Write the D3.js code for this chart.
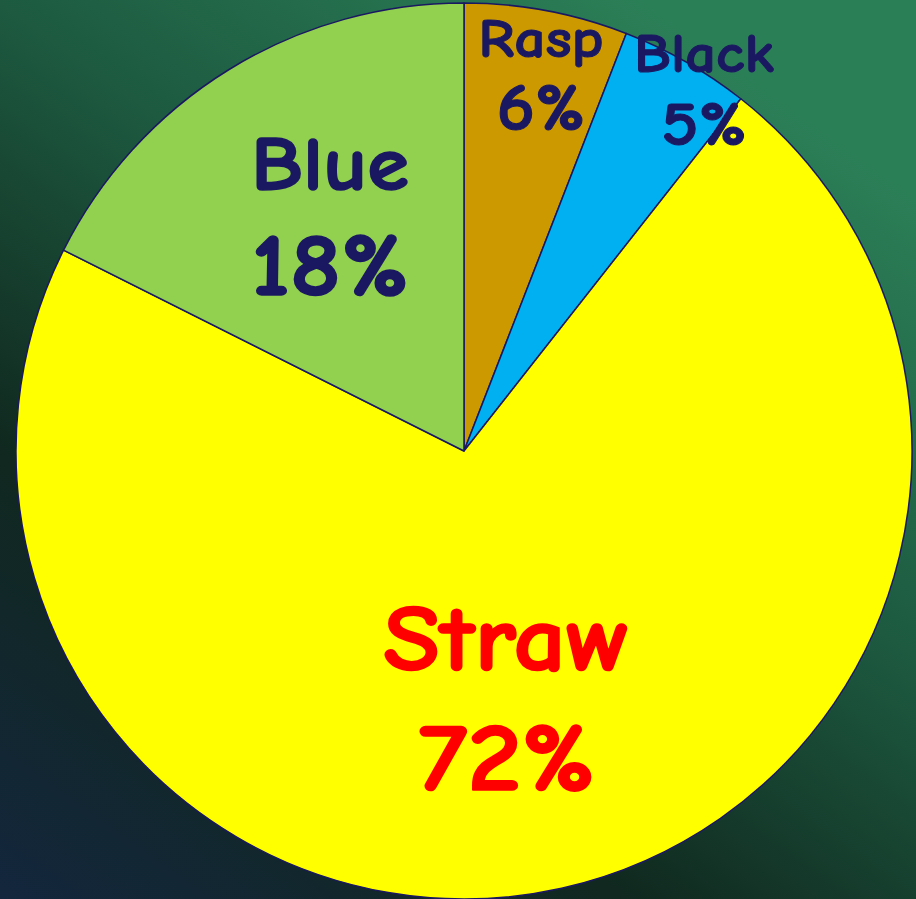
<!DOCTYPE html>
<html>
<head>
<meta charset="utf-8">
<script src="https://cdn.jsdelivr.net/npm/d3@7"></script>
<style>
  html, body { margin: 0; padding: 0; overflow: hidden; }
  svg { display: block; }
</style>
</head>
<body>
<svg id="chart" width="916" height="899"></svg>
<script>
// ---- data ----
const categories = ["Rasp", "Black", "Straw", "Blue"];
const values = [5.9, 4.7, 71.8, 17.6];
const colors = ["#CC9900", "#00B0F0", "#FFFF00", "#92D050"];
const labelColors = ["#1B1862", "#1B1862", "#FF0000", "#1B1862"];

// ---- label layout (radius fraction, angle shift deg, name/pct font sizes, line gap) ----
const labelRadius = [0.816, 0.9335, 0.630, 0.553];
const labelAngleShift = [1.53, 5.32, 3.84, -1.05];
const nameFont = [55, 54, 93, 76];
const pctFont = [66, 63, 97, 89];
const labelGap = [73, 73, 120, 105];
const strokeW = [1, 1, 1.6, 1.6];
const stretchX = 1.12;

const W = 916, H = 899;
const cx = 464, cy = 451, R = 448;

const svg = d3.select("#chart");
const defs = svg.append("defs");
const grad = defs.append("linearGradient")
  .attr("id", "bg").attr("gradientUnits", "userSpaceOnUse")
  .attr("x1", 0).attr("y1", H).attr("x2", W * 0.7).attr("y2", 0);
grad.append("stop").attr("offset", "0%").attr("stop-color", "#13263d");
grad.append("stop").attr("offset", "33%").attr("stop-color", "#10281f");
grad.append("stop").attr("offset", "66%").attr("stop-color", "#1d5a40");
grad.append("stop").attr("offset", "100%").attr("stop-color", "#2b7f57");
svg.append("rect").attr("width", W).attr("height", H).attr("fill", "url(#bg)");

const data = categories.map((c, i) => ({ name: c, value: values[i], i }));
const pie = d3.pie().value(d => d.value).sort(null);
const arcs = pie(data);
const arc = d3.arc().innerRadius(0).outerRadius(R);

const g = svg.append("g").attr("transform", `translate(${cx},${cy})`);
g.selectAll("path.slice").data(arcs).enter().append("path")
  .attr("class", "slice")
  .attr("d", arc)
  .attr("fill", d => colors[d.data.i])
  .attr("stroke", "#1B1862")
  .attr("stroke-width", 1.5)
  .attr("stroke-linejoin", "round");

const total = d3.sum(values);
const fontFam = "'Comic Sans MS', 'Comic Neue', Lato, 'DejaVu Sans', sans-serif";
arcs.forEach(d => {
  const i = d.data.i;
  const a = (d.startAngle + d.endAngle) / 2 + labelAngleShift[i] * Math.PI / 180;
  const r = R * labelRadius[i];
  const x = r * Math.sin(a), y = -r * Math.cos(a);
  const lines = [
    { text: d.data.name, size: nameFont[i], dy: -labelGap[i] / 2 },
    { text: Math.round(d.data.value / total * 100) + "%", size: pctFont[i], dy: labelGap[i] / 2 }
  ];
  lines.forEach(l => {
    g.append("text")
      .attr("transform", `translate(${x},${y + l.dy}) scale(${stretchX},1)`)
      .attr("text-anchor", "middle")
      .attr("font-family", fontFam)
      .attr("font-weight", "bold")
      .attr("font-size", l.size)
      .attr("fill", labelColors[i])
      .attr("stroke", labelColors[i])
      .attr("stroke-width", strokeW[i])
      .attr("stroke-linejoin", "round")
      .text(l.text);
  });
});
</script>
</body>
</html>
